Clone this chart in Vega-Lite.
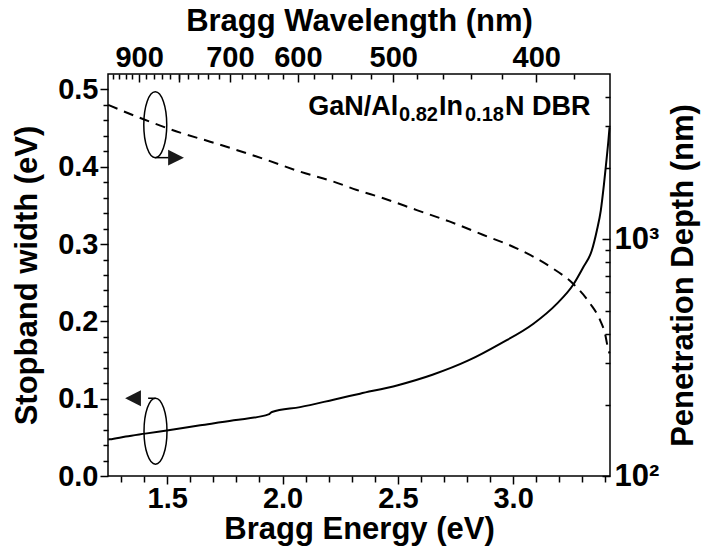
{
  "$schema": "https://vega.github.io/schema/vega-lite/v6.json",
  "width": 502,
  "height": 402,
  "autosize": {"type": "none"},
  "padding": {"left": 108, "top": 74, "right": 92, "bottom": 76},
  "background": "white",
  "config": {
    "view": {"stroke": "black", "strokeWidth": 1.5},
    "axis": {
      "grid": false,
      "domain": false,
      "labelFont": "Liberation Sans",
      "labelFontWeight": "bold",
      "labelFontSize": 29,
      "labelColor": "black",
      "titleFont": "Liberation Sans",
      "titleFontWeight": "bold",
      "titleFontSize": 31,
      "titleColor": "black",
      "tickColor": "black",
      "tickWidth": 1.5
    }
  },
  "datasets": {
    "sw": [
      {"E": 1.244, "w": 0.0472},
      {"E": 1.25, "w": 0.0474},
      {"E": 1.32, "w": 0.051},
      {"E": 1.404, "w": 0.0548},
      {"E": 1.498, "w": 0.059},
      {"E": 1.643, "w": 0.0655},
      {"E": 1.788, "w": 0.072},
      {"E": 1.939, "w": 0.0797},
      {"E": 1.954, "w": 0.0827},
      {"E": 2.076, "w": 0.0891},
      {"E": 2.221, "w": 0.0987},
      {"E": 2.336, "w": 0.1065},
      {"E": 2.5, "w": 0.1175},
      {"E": 2.65, "w": 0.131},
      {"E": 2.806, "w": 0.1495},
      {"E": 2.943, "w": 0.171},
      {"E": 3.088, "w": 0.197},
      {"E": 3.189, "w": 0.2227},
      {"E": 3.261, "w": 0.2477},
      {"E": 3.304, "w": 0.27},
      {"E": 3.341, "w": 0.2916},
      {"E": 3.363, "w": 0.3175},
      {"E": 3.38, "w": 0.3433},
      {"E": 3.394, "w": 0.3778},
      {"E": 3.403, "w": 0.4036},
      {"E": 3.413, "w": 0.4337},
      {"E": 3.418, "w": 0.451}
    ],
    "pd": [
      {"E": 1.244, "d": 3700},
      {"E": 1.289, "d": 3548},
      {"E": 1.397, "d": 3218},
      {"E": 1.556, "d": 2826},
      {"E": 1.686, "d": 2588},
      {"E": 1.845, "d": 2311},
      {"E": 1.932, "d": 2166},
      {"E": 2.076, "d": 1933},
      {"E": 2.221, "d": 1754},
      {"E": 2.322, "d": 1618},
      {"E": 2.437, "d": 1492},
      {"E": 2.582, "d": 1330},
      {"E": 2.726, "d": 1188},
      {"E": 2.871, "d": 1044},
      {"E": 3.015, "d": 917},
      {"E": 3.16, "d": 767},
      {"E": 3.261, "d": 648},
      {"E": 3.333, "d": 537},
      {"E": 3.377, "d": 456},
      {"E": 3.398, "d": 401},
      {"E": 3.413, "d": 341},
      {"E": 3.418, "d": 330}
    ]
  },
  "resolve": {
    "scale": {"y": "independent"},
    "axis": {"x": "independent", "y": "independent"}
  },
  "layer": [
    {
      "data": {"name": "sw"},
      "mark": {"type": "line", "color": "black", "strokeWidth": 2, "interpolate": "monotone"},
      "encoding": {
        "x": {
          "field": "E", "type": "quantitative",
          "scale": {"domain": [1.243, 3.42], "nice": false, "zero": false},
          "axis": {
            "orient": "bottom",
            "values": [1.5, 2.0, 2.5, 3.0],
            "format": ".1f",
            "tickSize": 8,
            "labelPadding": 0,
            "title": "Bragg Energy (eV)",
            "titlePadding": 1
          }
        },
        "y": {
          "field": "w", "type": "quantitative",
          "scale": {"domain": [0, 0.52], "nice": false, "zero": false},
          "axis": {
            "orient": "left",
            "values": [0, 0.1, 0.2, 0.3, 0.4, 0.5],
            "format": ".1f",
            "tickSize": 8,
            "labelPadding": 2,
            "title": "Stopband width (eV)",
            "titlePadding": 14
          }
        }
      }
    },
    {
      "data": {"name": "pd"},
      "mark": {"type": "line", "color": "black", "strokeWidth": 2, "strokeDash": [10, 7], "interpolate": "monotone"},
      "encoding": {
        "x": {
          "field": "E", "type": "quantitative",
          "scale": {"domain": [1.243, 3.42], "nice": false, "zero": false},
          "axis": {
            "orient": "bottom",
            "values": [1.3, 1.4, 1.6, 1.7, 1.8, 1.9, 2.1, 2.2, 2.3, 2.4, 2.6, 2.7, 2.8, 2.9, 3.1, 3.2, 3.3, 3.4],
            "labels": false,
            "tickSize": 6,
            "title": null
          }
        },
        "y": {
          "field": "d", "type": "quantitative",
          "scale": {"type": "log", "domain": [100, 5000], "nice": false},
          "axis": {
            "orient": "right",
            "values": [100, 1000],
            "labelExpr": "datum.value < 500 ? '10²' : '10³'",
            "tickSize": -8,
            "labelPadding": 12,
            "labelFontSize": 31,
            "title": "Penetration Depth (nm)",
            "titleAngle": 270,
            "titlePadding": 41
          }
        }
      }
    },
    {
      "data": {"name": "pd"},
      "mark": {"type": "line", "opacity": 0},
      "encoding": {
        "x": {
          "field": "E", "type": "quantitative",
          "scale": {"domain": [1.243, 3.42], "nice": false, "zero": false},
          "axis": null
        },
        "y": {
          "field": "d", "type": "quantitative",
          "scale": {"type": "log", "domain": [100, 5000], "nice": false},
          "axis": {
            "orient": "right",
            "values": [200, 300, 400, 500, 600, 700, 800, 900, 2000, 3000, 4000],
            "labels": false,
            "tickSize": -5,
            "title": null
          }
        }
      }
    },
    {
      "data": {"values": [
        {"E": 1.448, "w": 0.4544},
        {"E": 1.449, "w": 0.058}
      ]},
      "mark": {"type": "point", "shape": "M0,-1A0.348,1,0,1,1,0,1A0.348,1,0,1,1,0,-1Z", "size": 4356, "filled": false, "stroke": "black", "strokeWidth": 1.5, "opacity": 1},
      "encoding": {
        "x": {
          "field": "E", "type": "quantitative",
          "scale": {"domain": [1.243, 3.42], "nice": false, "zero": false},
          "axis": {
            "orient": "top",
            "values": [1.37778, 1.55, 1.77143, 2.06667, 2.48, 3.1],
            "labelExpr": "datum.value > 1.5 && datum.value < 1.6 ? '' : format(1240 / datum.value, '.0f')",
            "tickSize": -8,
            "labelPadding": 10,
            "title": "Bragg Wavelength (nm)",
            "titlePadding": 6
          }
        },
        "y": {
          "field": "w", "type": "quantitative",
          "scale": {"domain": [0, 0.52], "nice": false, "zero": false},
          "axis": {
            "orient": "left",
            "values": [0.02, 0.04, 0.06, 0.08, 0.12, 0.14, 0.16, 0.18, 0.22, 0.24, 0.26, 0.28, 0.32, 0.34, 0.36, 0.38, 0.42, 0.44, 0.46, 0.48],
            "labels": false,
            "tickSize": 5,
            "title": null
          }
        }
      }
    },
    {
      "data": {"values": [
        {"E": 1.538, "w": 0.4118, "dir": "right"},
        {"E": 1.3515, "w": 0.1006, "dir": "left"}
      ]},
      "mark": {"type": "point", "filled": true, "size": 250, "color": "#1a1a1a", "opacity": 1},
      "encoding": {
        "x": {
          "field": "E", "type": "quantitative",
          "scale": {"domain": [1.243, 3.42], "nice": false, "zero": false},
          "axis": {
            "orient": "top",
            "values": [1.26531, 1.29167, 1.31915, 1.34783, 1.40909, 1.44186, 1.47619, 1.5122, 1.55, 1.58974, 1.63158, 1.67568, 1.72222, 1.82353, 1.87879, 1.9375, 2.0, 2.13793, 2.21429, 2.2963, 2.38462, 2.58333, 2.69565, 2.81818, 2.95238, 3.26316],
            "labels": false,
            "tickSize": -5,
            "title": null
          }
        },
        "y": {
          "field": "w", "type": "quantitative",
          "scale": {"domain": [0, 0.52], "nice": false, "zero": false},
          "axis": null
        },
        "shape": {
          "field": "dir", "type": "nominal",
          "scale": {"domain": ["right", "left"], "range": ["M-1,-1L1,0L-1,1Z", "M1,-1L-1,0L1,1Z"]},
          "legend": null
        }
      }
    },
    {
      "data": {"values": [
        {"E1": 1.448, "E2": 1.505, "w": 0.4118},
        {"E1": 1.417, "E2": 1.449, "w": 0.1006}
      ]},
      "mark": {"type": "rule", "color": "black", "strokeWidth": 1.5},
      "encoding": {
        "x": {
          "field": "E1", "type": "quantitative",
          "scale": {"domain": [1.243, 3.42], "nice": false, "zero": false},
          "axis": null
        },
        "x2": {"field": "E2"},
        "y": {
          "field": "w", "type": "quantitative",
          "scale": {"domain": [0, 0.52], "nice": false, "zero": false},
          "axis": null
        }
      }
    },
    {
      "data": {"values": [
        {"E": 2.111, "w": 0.4673, "t": "GaN/Al"},
        {"E": 2.678, "w": 0.4673, "t": "In"},
        {"E": 2.965, "w": 0.4673, "t": "N DBR"}
      ]},
      "mark": {"type": "text", "align": "left", "baseline": "alphabetic", "font": "Liberation Sans", "fontWeight": "bold", "fontSize": 27, "color": "black"},
      "encoding": {
        "x": {
          "field": "E", "type": "quantitative",
          "scale": {"domain": [1.243, 3.42], "nice": false, "zero": false},
          "axis": null
        },
        "y": {
          "field": "w", "type": "quantitative",
          "scale": {"domain": [0, 0.52], "nice": false, "zero": false},
          "axis": null
        },
        "text": {"field": "t"}
      }
    },
    {
      "data": {"values": [
        {"E": 2.505, "w": 0.4596, "t": "0.82"},
        {"E": 2.791, "w": 0.4596, "t": "0.18"}
      ]},
      "mark": {"type": "text", "align": "left", "baseline": "alphabetic", "font": "Liberation Sans", "fontWeight": "bold", "fontSize": 20, "color": "black"},
      "encoding": {
        "x": {
          "field": "E", "type": "quantitative",
          "scale": {"domain": [1.243, 3.42], "nice": false, "zero": false},
          "axis": null
        },
        "y": {
          "field": "w", "type": "quantitative",
          "scale": {"domain": [0, 0.52], "nice": false, "zero": false},
          "axis": null
        },
        "text": {"field": "t"}
      }
    }
  ]
}
